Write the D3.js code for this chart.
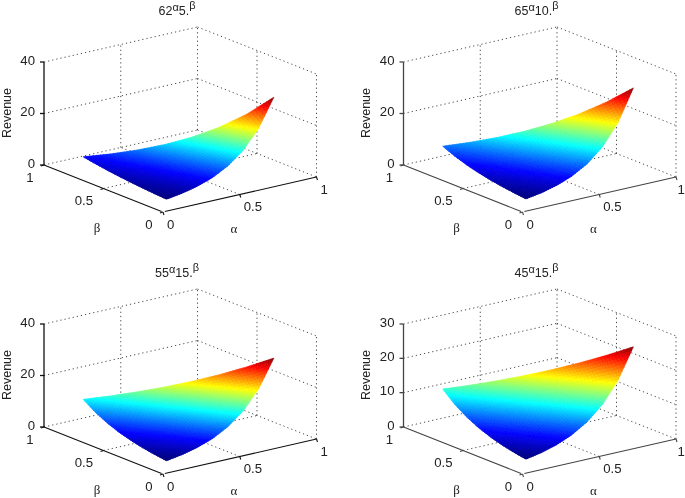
<!DOCTYPE html>
<html><head><meta charset="utf-8">
<script src="https://cdn.jsdelivr.net/npm/d3@7"></script>
<style>
html,body{margin:0;padding:0;background:#fff}
svg{display:block;filter:blur(0.45px)}
text{font-family:"Liberation Sans",Arial,sans-serif;fill:#222}
</style></head><body>
<svg id="chart" width="685" height="498"></svg>
<script>
// Data
const alphaLevels = [0.1,0.2,0.3,0.4,0.5,0.6,0.7,0.8];
const betaLevels  = [0.1,0.2,0.3,0.4,0.5,0.6,0.7,0.8];
const axisTicks   = [0,0.5,1];
const revenueA = [
 [1.78,2.09,2.45,2.88,3.38,3.97,4.66,5.48],
 [2.68,3.15,3.70,4.34,5.10,6.00,7.04],
 [4.05,4.76,5.59,6.57,7.71,9.06],
 [6.12,7.19,8.45,9.92,11.65],
 [9.25,10.87,12.76,14.99],
 [13.98,16.42,19.29],
 [21.11,24.80],
 [31.91]];
const revenueB = [
 [1.91,2.41,3.03,3.81,4.80,6.04,7.61,9.58],
 [2.90,3.65,4.60,5.79,7.29,9.18,11.55],
 [4.41,5.55,6.98,8.79,11.06,13.93],
 [6.69,8.42,10.59,13.34,16.79],
 [10.15,12.78,16.08,20.25],
 [15.41,19.40,24.42],
 [23.40,29.46],
 [35.50]];
const revenueC = [
 [1.96,2.57,3.36,4.41,5.78,7.58,9.94,13.03],
 [2.92,3.83,5.02,6.58,8.63,11.32,14.84],
 [4.36,5.72,7.50,9.83,12.89,16.89],
 [6.51,8.54,11.19,14.67,19.24],
 [9.72,12.75,16.71,21.91],
 [14.51,19.03,24.94],
 [21.67,28.42],
 [32.34]];
const revenueD = [
 [1.92,2.51,3.30,4.32,5.67,7.43,9.74,12.77],
 [2.81,3.68,4.82,6.32,8.29,10.87,14.25],
 [4.10,5.38,7.05,9.25,12.12,15.89],
 [6.00,7.87,10.32,13.53,17.74],
 [8.79,11.53,15.11,19.81],
 [12.86,16.86,22.10],
 [18.81,24.67],
 [27.53]];
const titleBases = [["62","5."],["65","10."],["55","15."],["45","15."]];
const zTicksA = [0,20,40];
const zTicksB = [0,20,40];
const zTicksC = [0,20,40];
const zTicksD = [0,10,20,30];

// Layout
const panelOffsets = [[0,0],[359.5,0],[0,262],[359.5,262]];
const axisColors = ["#111","#444","#111","#444"];
const jetStops  = [0,0.125,0.375,0.625,0.875,1];
const jetColors = ["#000080","#0000ff","#00ffff","#ffff00","#ff0000","#800000"];
const panels = [
 {rev:revenueA, zt:zTicksA, tb:titleBases[0], off:panelOffsets[0], ac:axisColors[0]},
 {rev:revenueB, zt:zTicksB, tb:titleBases[1], off:panelOffsets[1], ac:axisColors[1]},
 {rev:revenueC, zt:zTicksC, tb:titleBases[2], off:panelOffsets[2], ac:axisColors[2]},
 {rev:revenueD, zt:zTicksD, tb:titleBases[3], off:panelOffsets[3], ac:axisColors[3]}
];
const svg = d3.select("#chart");
const SUB = 8;
const FS = 13.2;

panels.forEach(p=>{
  const g = svg.append("g").attr("transform",`translate(${p.off[0]},${p.off[1]})`);
  const ax = d3.scaleLinear([0,1],[0,153.5]), ay = d3.scaleLinear([0,1],[0,-35]);
  const bx = d3.scaleLinear([0,1],[0,-119]), by = d3.scaleLinear([0,1],[0,-47]);
  const zs = d3.scaleLinear([0,d3.max(p.zt)],[0,-103]);
  const O = [163,212];
  const P = (a,b,z)=>[O[0]+ax(a)+bx(b), O[1]+ay(a)+by(b)+zs(z)];
  const line = (q,r)=>g.append("line").attr("x1",q[0]).attr("y1",q[1]).attr("x2",r[0]).attr("y2",r[1]);
  const zTop = d3.max(p.zt);
  const grid = (q,r)=>line(q,r).attr("stroke","#333").attr("stroke-width",0.9).attr("stroke-dasharray","1.2 3");
  p.zt.forEach(z=>{ grid(P(0,1,z),P(1,1,z)); grid(P(1,1,z),P(1,0,z)); });
  axisTicks.forEach(t=>{
    if(t>0){ grid(P(t,1,0),P(t,1,zTop)); }
    if(t<1){ grid(P(1,t,0),P(1,t,zTop)); }
  });
  grid(P(0.5,0,0),P(0.5,1,0)); grid(P(0,0.5,0),P(1,0.5,0));
  // surface
  const [zmin,zmax] = d3.extent(p.rev.flat());
  const jet = d3.scaleLinear(jetStops.map(s=>zmin+s*(zmax-zmin)),jetColors).interpolate(d3.interpolateRgb);
  const tris=[];
  const pt=(i,j)=>[alphaLevels[i],betaLevels[j],p.rev[i][j]];
  for(let i=0;i<8;i++)for(let j=0;j<8-i;j++){
    if(i+j<=6){
      tris.push([pt(i,j),pt(i+1,j),pt(i,j+1)]);
      if(i+j<=5) tris.push([pt(i+1,j),pt(i+1,j+1),pt(i,j+1)]);
    }
  }
  const mix=(A,B,C,u,v)=>{const w=1-u-v;return [A[0]*w+B[0]*u+C[0]*v,A[1]*w+B[1]*u+C[1]*v,A[2]*w+B[2]*u+C[2]*v];};
  const small=[];
  tris.forEach(([A,B,C])=>{
    for(let u=0;u<SUB;u++)for(let v=0;v<SUB-u;v++){
      small.push([[u,v],[u+1,v],[u,v+1]].map(([x,y])=>mix(A,B,C,x/SUB,y/SUB)));
      if(u+v<SUB-1) small.push([[u+1,v],[u+1,v+1],[u,v+1]].map(([x,y])=>mix(A,B,C,x/SUB,y/SUB)));
    }
  });
  small.sort((s,t)=>d3.sum(t,d=>d[0]+d[1])-d3.sum(s,d=>d[0]+d[1]));
  g.append("g").selectAll("path").data(small).join("path")
    .attr("d",s=>"M"+s.map(d=>P(d[0],d[1],d[2]).map(n=>n.toFixed(2)).join(",")).join("L")+"Z")
    .attr("fill",s=>jet(d3.mean(s,d=>d[2])))
    .attr("stroke",s=>jet(d3.mean(s,d=>d[2])))
    .attr("stroke-width",0.6);
  // axes
  const solid=(q,r,w)=>line(q,r).attr("stroke",p.ac).attr("stroke-width",w||1.1);
  solid(P(0,1,0),P(0,1,zTop),1.3);
  solid(P(0.012,0,0),P(1,0,0));
  solid(P(0,1,0),P(0,0.012,0));
  p.zt.forEach(z=>{ const q=P(0,1,z); solid(q,[q[0]-4,q[1]],1.3);
    g.append("text").attr("x",q[0]-9).attr("y",q[1]+2.8).attr("text-anchor","end").attr("font-size",FS).text(z);});
  axisTicks.forEach(t=>{
    let q=P(t,0,0); solid(q,[q[0]+1,q[1]+3]);
    const shift = (t===1 && p.off[0]>0) ? -2.5 : 0;
    g.append("text").attr("x",q[0]+4+shift).attr("y",q[1]+16.8).attr("text-anchor","start").attr("font-size",FS).text(t);
    q=P(0,t,0); solid(q,[q[0]-3,q[1]+1]);
    g.append("text").attr("x",q[0]-10.5).attr("y",q[1]+16.8).attr("text-anchor","end").attr("font-size",FS).text(t);
  });
  g.append("text").attr("x",97).attr("y",232).attr("text-anchor","middle").attr("font-size",13).style("font-family","'Liberation Serif',serif").text("β");
  g.append("text").attr("x",234).attr("y",233).attr("text-anchor","middle").attr("font-size",13).style("font-family","'Liberation Serif',serif").text("α");
  g.append("text").attr("transform","translate(10.5,113) rotate(-90)").attr("text-anchor","middle").attr("font-size",12.5).text("Revenue");
  const t=g.append("text").attr("x",177).attr("y",15).attr("text-anchor","middle").attr("font-size",12.5);
  t.append("tspan").text(p.tb[0]);
  t.append("tspan").attr("dy",-4).attr("font-size",11).text("α");
  t.append("tspan").attr("dy",4).text(p.tb[1]);
  t.append("tspan").attr("dy",-6).attr("font-size",11).text("β");
});
</script></body></html>
